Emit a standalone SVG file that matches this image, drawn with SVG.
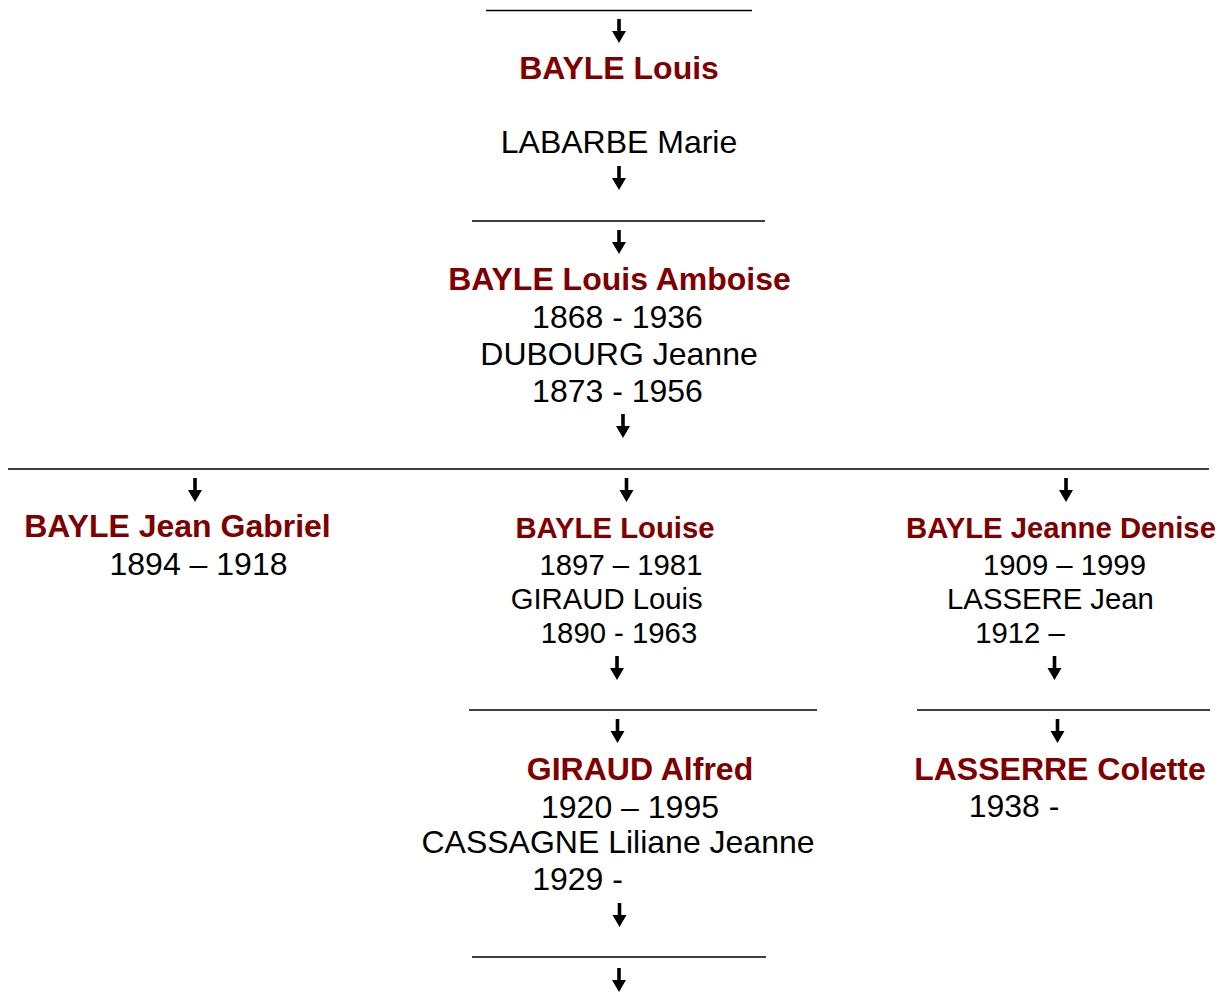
<svg xmlns="http://www.w3.org/2000/svg" xmlns:xlink="http://www.w3.org/1999/xlink" width="1229" height="992" viewBox="0 0 1229 992">
<style>
text{font-family:"Liberation Sans",Arial,sans-serif;text-anchor:middle;fill:#000}
.n{font-weight:bold;fill:#800000}
.b{font-size:32px}
.s{font-size:29.3px}
.ln{stroke:#000;stroke-width:1.6;fill:none}
</style>
<defs>
<path id="arr" d="M-1.8,0 H1.8 V12 H7 L0,24 L-7,12 H-1.8 Z" fill="#000"/>
</defs>
<rect width="1229" height="992" fill="#fff"/>
<g id="connectors">
<line class="ln" x1="486" y1="10.5" x2="752" y2="10.5"/>
<line class="ln" x1="472" y1="221" x2="765" y2="221"/>
<line class="ln" x1="8" y1="469" x2="1209" y2="469"/>
<line class="ln" x1="469" y1="710" x2="817" y2="710"/>
<line class="ln" x1="917" y1="710" x2="1210" y2="710"/>
<line class="ln" x1="472" y1="957" x2="766" y2="957"/>
<use xlink:href="#arr" x="619" y="19"/>
<use xlink:href="#arr" x="619" y="166"/>
<use xlink:href="#arr" x="619" y="230"/>
<use xlink:href="#arr" x="623" y="414"/>
<use xlink:href="#arr" x="195" y="478"/>
<use xlink:href="#arr" x="626.5" y="478"/>
<use xlink:href="#arr" x="1066" y="478"/>
<use xlink:href="#arr" x="617" y="656"/>
<use xlink:href="#arr" x="1054.5" y="656"/>
<use xlink:href="#arr" x="617.5" y="719"/>
<use xlink:href="#arr" x="1057.5" y="719"/>
<use xlink:href="#arr" x="619.5" y="903"/>
<use xlink:href="#arr" x="619" y="968"/>
</g>
<g id="node-bayle-louis">
<text class="b n" x="619" y="79">BAYLE Louis</text>
<text class="b" x="619" y="153">LABARBE Marie</text>
</g>
<g id="node-bayle-louis-amboise">
<text class="b n" x="619.5" y="290">BAYLE Louis Amboise</text>
<text class="b" x="617.5" y="327.5">1868 - 1936</text>
<text class="b" x="619" y="365">DUBOURG Jeanne</text>
<text class="b" x="617.5" y="401.5">1873 - 1956</text>
</g>
<g id="node-bayle-jean-gabriel">
<text class="b n" x="177.5" y="537">BAYLE Jean Gabriel</text>
<text class="b" x="198.5" y="575">1894 – 1918</text>
</g>
<g id="node-bayle-louise">
<text class="s n" x="615" y="538">BAYLE Louise</text>
<text class="s" x="621" y="575">1897 – 1981</text>
<text class="s" x="606.7" y="609">GIRAUD Louis</text>
<text class="s" x="619" y="643">1890 - 1963</text>
</g>
<g id="node-bayle-jeanne-denise">
<text class="s n" x="1061" y="538">BAYLE Jeanne Denise</text>
<text class="s" x="1064.5" y="575">1909 – 1999</text>
<text class="s" x="1050.5" y="609">LASSERE Jean</text>
<text class="s" x="1020" y="643">1912 –</text>
</g>
<g id="node-giraud-alfred">
<text class="b n" x="640" y="780">GIRAUD Alfred</text>
<text class="b" x="630" y="818">1920 – 1995</text>
<text class="b" x="618" y="853">CASSAGNE Liliane Jeanne</text>
<text class="b" x="577.5" y="890">1929 -</text>
</g>
<g id="node-lasserre-colette">
<text class="b n" x="1060" y="780">LASSERRE Colette</text>
<text class="b" x="1014" y="817">1938 -</text>
</g>
</svg>
